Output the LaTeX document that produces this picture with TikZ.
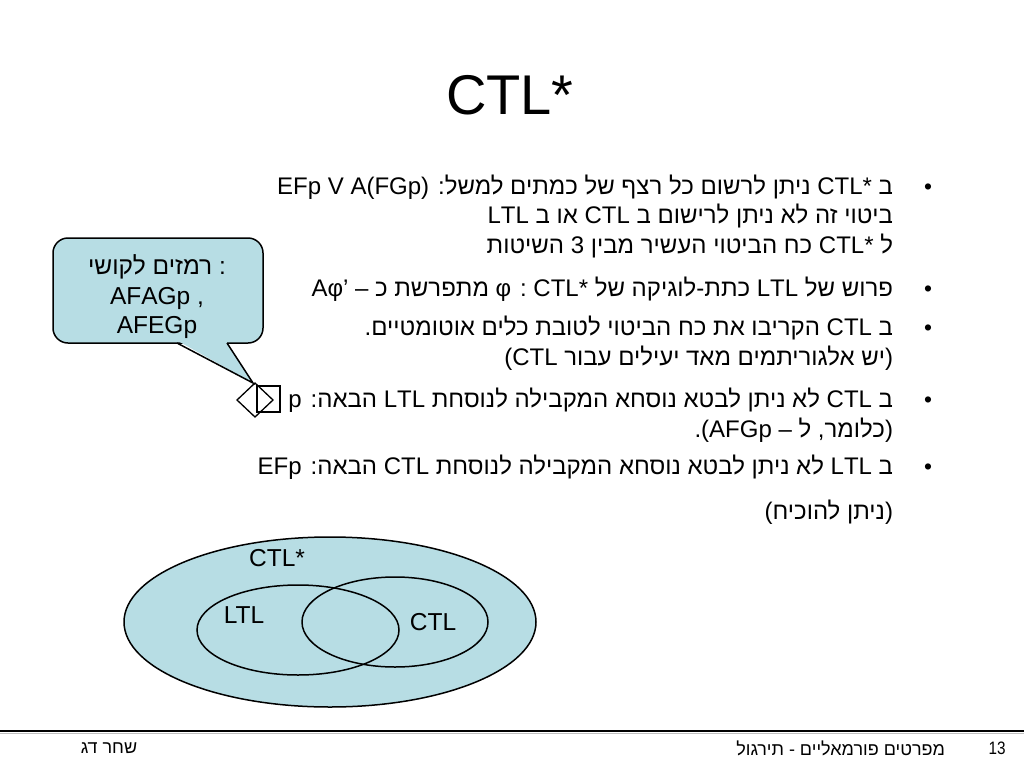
\documentclass[tikz,border=0pt]{standalone}
\usepackage{fontspec}
\usetikzlibrary{shapes.geometric}
\setmainfont{Liberation Sans}
\newfontfamily\heb[Script=Hebrew]{Liberation Sans}
\newfontfamily\narrowfont[FakeStretch=0.85]{Liberation Sans}
\TeXXeTstate=1
\definecolor{venn}{RGB}{183,221,228}
\begin{document}
\begin{tikzpicture}[x=1pt,y=-1pt,
  every node/.style={inner sep=0pt,outer sep=0pt},
  body/.style={font=\fontsize{24}{28}\heb,anchor=base east},
  bul/.style={font=\fontsize{22.75}{27}\selectfont,anchor=base},
  setshape/.style={ellipse,draw,line width=1.5pt},
  setlabel/.style={font=\fontsize{24.5}{28}\selectfont},
  foot/.style={font=\fontsize{18}{20}\heb}]
\useasboundingbox[fill=white] (0,0) rectangle (1024,768);
% title
\node[font=\fontsize{56}{60}\selectfont] (title) at (510,95) {CTL*};
% bullets
\node[bul] (b1) at (928,194) {•};
\node[bul] (b2) at (928,296) {•};
\node[bul] (b3) at (928,335) {•};
\node[bul] (b4) at (928,407) {•};
\node[bul] (b5) at (928,474) {•};
% body text
\node[body] (l1) at (893,194) {\beginR ב CTL* ניתן לרשום כל רצף של כמתים למשל: \beginL EFp V A(FGp)\endL\endR};
\node[body] (l2) at (893,223) {\beginR ביטוי זה לא ניתן לרישום ב CTL או ב LTL\endR};
\node[body] (l3) at (893,253) {\beginR ל CTL* כח הביטוי העשיר מבין 3 השיטות\endR};
\node[body] (l4) at (893,296) {\beginR פרוש של LTL כתת-לוגיקה של CTL* : φ מתפרשת כ – Aφ’\endR};
\node[body] (l5) at (893,335) {\beginR ב CTL הקריבו את כח הביטוי לטובת כלים אוטומטיים.\endR};
\node[body] (l6) at (893,365) {\beginR (יש אלגוריתמים מאד יעילים עבור \beginL(CTL\endL\endR};
\node[body] (l7) at (893,407) {\beginR ב CTL לא ניתן לבטא נוסחא המקבילה לנוסחת LTL הבאה: p\endR};
\node[body] (l8) at (893,437) {\beginR (כלומר, ל – \beginL.(AFGp\endL\endR};
\node[body] (l9) at (893,474) {\beginR ב LTL לא ניתן לבטא נוסחא המקבילה לנוסחת CTL הבאה: EFp\endR};
\node[body] (l10) at (893,519) {\beginR (ניתן להוכיח)\endR};
% diamond and box symbols
\draw[line width=1.3pt] (257,386) rectangle (280,412);
\draw[line width=1.3pt] (237,400) -- (255,383) -- (273,400) -- (255,417) -- cycle;
% callout
\coordinate (tip) at (253,383);
\coordinate (pa) at (177,343);
\coordinate (pb) at (227,343);
\draw[fill=venn,line width=1.5pt,rounded corners=15pt] (53,238) rectangle (263,343);
\fill[venn] (178,341) -- (226,341) -- (tip) -- cycle;
\draw[line width=1.5pt,line join=miter] (pa) -- (tip) -- (pb);
\node[font=\fontsize{24.5}{29.5}\heb,align=center] (callout) at (157,297)
  {\beginR רמזים לקושי\endR{} :\\AFAGp ,\\AFEGp};
% Venn
\node[setshape,fill=venn,minimum width=412pt,minimum height=170pt] (star) at (330,622) {};
\node[setshape,minimum width=202pt,minimum height=90pt] (ltl) at (298,630) {};
\node[setshape,minimum width=186pt,minimum height=90pt] (ctl) at (395,622) {};
\node[setlabel] (starlbl) at (277,558) {CTL*};
\node[setlabel] (ltllbl) at (244,615) {LTL};
\node[setlabel] (ctllbl) at (433,622) {CTL};
% footer
\draw[line width=2.2pt] (0,731) -- (1024,731);
\draw[gray!50,line width=1pt] (0,733.5) -- (1024,733.5);
\node[foot,anchor=east] (course) at (945,748) {\beginR מפרטים פורמאליים - תירגול\endR};
\node[foot] (author) at (109,748) {\beginR שחר דג\endR};
\node[font=\fontsize{18}{20}\narrowfont] (page) at (997,748) {13};
\end{tikzpicture}
\end{document}
